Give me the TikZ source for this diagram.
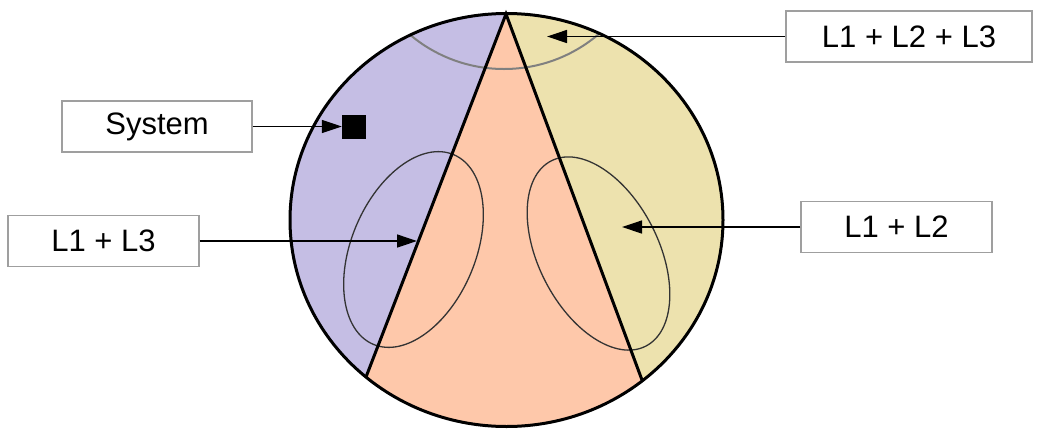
\documentclass[tikz,border=0pt]{standalone}
\usepackage{fontspec}
\setmainfont{Liberation Sans}
\usetikzlibrary{arrows.meta}
\definecolor{RegionLilac}{RGB}{197,190,228}
\definecolor{RegionSand}{RGB}{237,226,174}
\definecolor{RegionPeach}{RGB}{254,200,170}
\tikzset{
  lbox/.style={draw=gray!75,fill=white,line width=1.4pt,inner sep=0pt,
               minimum height=51pt,font=\fontsize{31}{36}\selectfont},
  arr/.style={-{Triangle[length=20pt,width=13pt]},line width=1.3pt},
  divider/.style={line width=3pt,line join=miter},
  loop/.style={draw=black!80,line width=1.3pt},
}

\begin{document}
\begin{tikzpicture}[x=1pt,y=-1pt]
    \useasboundingbox (0,0) rectangle (1039,429);

    % Circle and its three regions
    \coordinate (apex) at (506,14);
    \coordinate (lowL) at (366,377);
    \coordinate (lowR) at (642,380);
    \begin{scope}
        \clip (506.5,220) ellipse [x radius=216.5, y radius=206.5];
        \fill[RegionLilac] (250,-60) rectangle (780,480);
        \fill[RegionPeach] (apex) -- (324,486) -- (683,490) -- cycle;
        \fill[RegionSand] (apex) -- (683,490) -- (800,490) -- (800,-60) -- (506,-60) -- cycle;
        \draw[gray, line width=2pt] (504,-77) circle [radius=146];
    \end{scope}

    % Overlapping areas
    \draw[loop] (413.5,249.5) circle [x radius=62, y radius=103, rotate=-23];
    \draw[loop] (598.5,253.5) circle [x radius=60, y radius=104, rotate=27];

    \draw[divider] (lowL) -- (apex) -- (lowR);
    \draw[line width=3pt] (506.5,220) ellipse [x radius=216.5, y radius=206.5];

    \node[fill=black, minimum size=24pt, inner sep=0pt] (sq) at (354,126.5) {};

    % Labels
    \node[lbox, minimum width=190pt] (sys) at (157,126.5) {System};
    \node[lbox, minimum width=191pt] (l13) at (103.5,241) {L1 + L3};
    \node[lbox, minimum width=246pt] (l123) at (909,36.5) {L1 + L2 + L3};
    \node[lbox, minimum width=191pt] (l12) at (896.5,227) {L1 + L2};

    \coordinate (tipL) at (417,241);
    \coordinate (tipT) at (547,36.5);
    \coordinate (tipR) at (622,227);

    \draw[arr] (sys.east) -- (sq.west);
    \draw[arr] (l13.east) -- (tipL);
    \draw[arr] (l123.west) -- (tipT);
    \draw[arr] (l12.west) -- (tipR);

\end{tikzpicture}
\end{document}
